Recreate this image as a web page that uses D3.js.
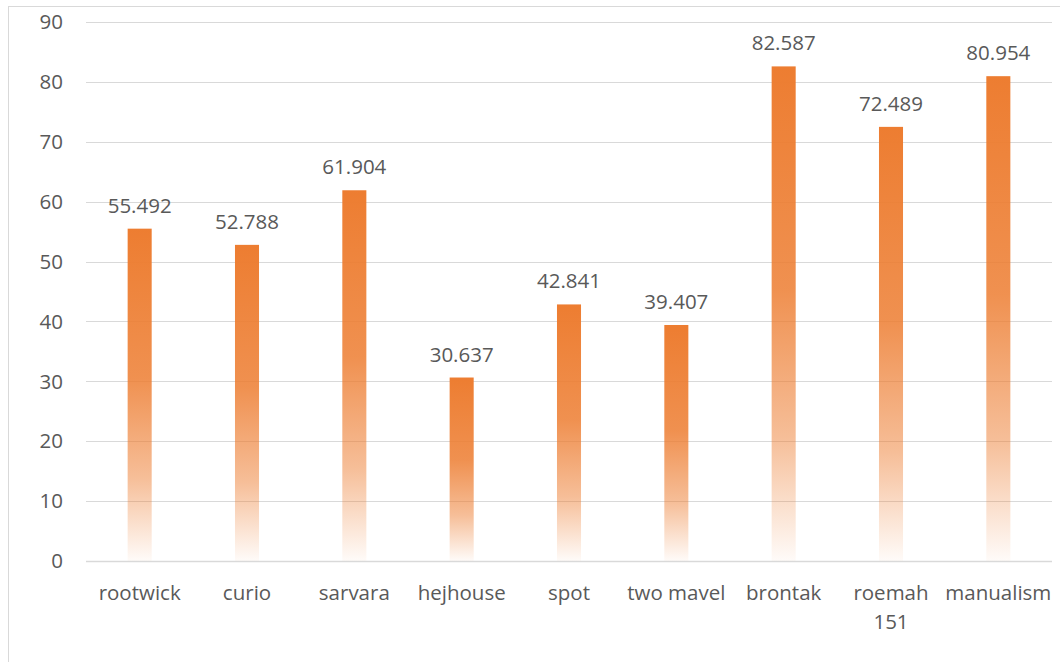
<!DOCTYPE html>
<html>
<head>
<meta charset="utf-8" />
<title>bar chart</title>
<style>
* { padding: 0; margin: 0; }
body { background: #fff; }
#chart { width: 1060px; height: 662px; }
text { font-family: "Open Sans", sans-serif; fill: #595959; }
</style>
</head>
<body>
<div id="chart"></div>
<script src="https://cdn.jsdelivr.net/npm/d3@7/dist/d3.min.js"></script>
<script>
    var categories = ["rootwick", "curio", "sarvara", "hejhouse", "spot", "two mavel", "brontak", "roemah 151", "manualism"]
    var values = [55.492, 52.788, 61.904, 30.637, 42.841, 39.407, 82.587, 72.489, 80.954]
    var yTicks = [0, 10, 20, 30, 40, 50, 60, 70, 80, 90]

    var width = 1060, height = 662
    var margin = {top: 22, left: 86, right: 8, bottom: 101}
    var fontSize = "20.5px"

    var svg = d3.select("#chart").append("svg")
        .attr("width", width).attr("height", height)

    // chart frame (runs off the right and bottom edges)
    svg.append("rect")
        .attr("x", 8.5).attr("y", 6.5)
        .attr("width", width).attr("height", height)
        .attr("fill", "none").attr("stroke", "#d9d9d9")

    var x = d3.scaleBand()
        .domain(categories)
        .range([margin.left, width - margin.right])
        .paddingInner(0.776).paddingOuter(0.388)

    var y = d3.scaleLinear()
        .domain([0, 90])
        .range([height - margin.bottom, margin.top])

    var defs = svg.append("defs")
    var grad = defs.append("linearGradient")
        .attr("id", "barFill")
        .attr("x1", 0).attr("y1", 0).attr("x2", 0).attr("y2", 1)
    grad.append("stop").attr("offset", "0%").attr("stop-color", "#ED7D31").attr("stop-opacity", 1)
    grad.append("stop").attr("offset", "45%").attr("stop-color", "#ED7D31").attr("stop-opacity", 0.85)
    grad.append("stop").attr("offset", "75%").attr("stop-color", "#ED7D31").attr("stop-opacity", 0.5)
    grad.append("stop").attr("offset", "100%").attr("stop-color", "#ED7D31").attr("stop-opacity", 0.03)

    // gridlines
    svg.append("g")
        .selectAll("line")
        .data(yTicks)
        .enter().append("line")
        .attr("x1", margin.left).attr("x2", width - margin.right)
        .attr("y1", function(d) { return Math.round(y(d)) + 0.5 })
        .attr("y2", function(d) { return Math.round(y(d)) + 0.5 })
        .attr("stroke", "#d9d9d9")
        .attr("stroke-width", function(d) { return d === 0 ? 1.5 : 1 })

    // y tick labels
    svg.append("g")
        .selectAll("text")
        .data(yTicks)
        .enter().append("text")
        .attr("x", 63)
        .attr("y", function(d) { return y(d) })
        .attr("dy", "0.35em")
        .attr("text-anchor", "end")
        .style("font-size", fontSize)
        .text(function(d) { return d })

    // bars
    svg.append("g")
        .selectAll("rect")
        .data(values)
        .enter().append("rect")
        .attr("x", function(d, i) { return x(categories[i]) })
        .attr("y", function(d) { return y(d) })
        .attr("width", x.bandwidth())
        .attr("height", function(d) { return y(0) - y(d) })
        .attr("fill", "url(#barFill)")

    // value labels
    svg.append("g")
        .selectAll("text")
        .data(values)
        .enter().append("text")
        .attr("x", function(d, i) { return x(categories[i]) + x.bandwidth() / 2 })
        .attr("y", function(d) { return y(d) - 16 })
        .attr("text-anchor", "middle")
        .style("font-size", fontSize)
        .text(function(d) { return d3.format(".3f")(d) })

    // category labels, wrapped when wider than the band
    var xl = svg.append("g")
        .selectAll("text")
        .data(categories)
        .enter().append("text")
        .attr("x", function(d) { return x(d) + x.bandwidth() / 2 })
        .attr("y", 600)
        .attr("text-anchor", "middle")
        .style("font-size", fontSize)
        .text(function(d) { return d })

    xl.each(function(d) {
        var t = d3.select(this)
        if (this.getComputedTextLength() <= x.step()) return
        var words = d.split(" ")
        t.text(null)
        words.forEach(function(w, k) {
            t.append("tspan")
                .attr("x", x(d) + x.bandwidth() / 2)
                .attr("dy", k === 0 ? 0 : 29)
                .text(w)
        })
    })
</script>
</body>
</html>
